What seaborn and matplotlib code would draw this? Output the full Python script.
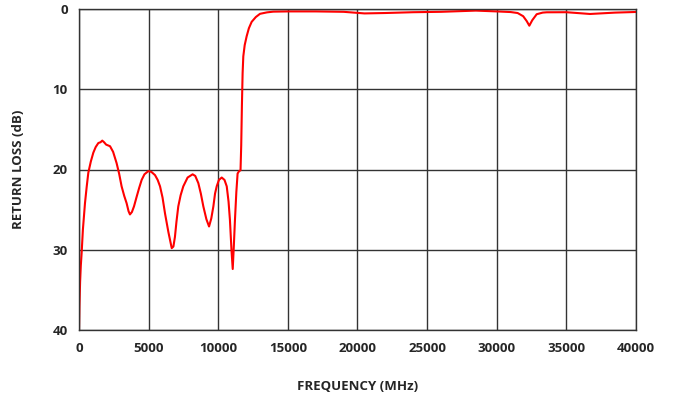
import matplotlib
matplotlib.use("Agg")
import matplotlib.pyplot as plt
import seaborn as sns
import pandas as pd

freq_mhz = [0, 30, 80, 130, 190, 280, 430, 550, 670, 850, 1030, 1200, 1390, 1550, 1670, 1800, 1950,
            2230, 2450, 2700, 2880, 3060, 3250, 3420, 3560, 3660, 3800, 3950, 4140, 4320, 4500,
            4700, 4980, 5200, 5460, 5650, 5820, 6000, 6180, 6420, 6660, 6780, 6890, 7000, 7130,
            7300, 7490, 7800, 8160, 8350, 8570, 8750, 8930, 9150, 9340, 9500, 9650, 9770, 9890,
            10050, 10250, 10450, 10610, 10740, 10840, 10950, 11040, 11120, 11200, 11300, 11390,
            11500, 11600, 11650, 11700, 11750, 11800, 11900, 12040, 12200, 12400, 12700, 13000,
            13500, 13950, 15000, 17000, 19000, 20500, 22000, 24000, 26000, 28500, 30000, 31000,
            31500, 31900, 32150, 32340, 32550, 32870, 33300, 33590, 35000, 36700, 38500, 40000]
return_loss_db = [40, 37, 34, 32, 30.4, 27.5, 24.2, 22.2, 20.4, 19.0, 17.9, 17.2, 16.7, 16.6, 16.4, 16.6, 16.9,
                  17.1, 17.8, 19.2, 20.5, 22.1, 23.3, 24.2, 25.2, 25.6, 25.3, 24.6, 23.4, 22.3, 21.3,
                  20.6, 20.2, 20.3, 20.7, 21.3, 22.1, 23.5, 25.5, 27.8, 29.8, 29.6, 28.4, 26.5, 24.6,
                  23.2, 22.1, 21.0, 20.6, 20.8, 21.7, 23.0, 24.6, 26.2, 27.1, 26.1, 24.6, 23.0, 22.1,
                  21.3, 21.0, 21.3, 22.1, 24.0, 26.3, 30.0, 32.4, 29.5, 26.3, 22.8, 20.5,
                  20.2, 20.1, 17.0, 12.0, 8.0, 5.9, 4.5, 3.4, 2.4, 1.6, 1.0, 0.6,
                  0.42, 0.33, 0.3, 0.3, 0.35, 0.55, 0.5, 0.4, 0.35, 0.2, 0.3, 0.38,
                  0.5, 0.9, 1.5, 2.08, 1.4, 0.65, 0.45, 0.41, 0.4, 0.62, 0.45, 0.37]
x_ticks = [0, 5000, 10000, 15000, 20000, 25000, 30000, 35000, 40000]
y_ticks = [0, 10, 20, 30, 40]

df = pd.DataFrame({"freq": freq_mhz, "rl": return_loss_db})

sns.set_theme(style="white")
plt.rcParams["font.family"] = ["Open Sans", "DejaVu Sans"]

fig = plt.figure(figsize=(6.74, 4.0), dpi=100)
ax = fig.add_axes([0.1172, 0.175, 0.8264, 0.8025])
sns.lineplot(data=df, x="freq", y="rl", ax=ax, color="#ff0000", linewidth=1.5)

ax.set_xlim(0, 40000)
ax.set_ylim(40, 0)
ax.set_xticks(x_ticks)
ax.set_yticks(y_ticks)
ax.set_xticklabels([str(t) for t in x_ticks], fontsize=9.5, fontweight="bold")
ax.set_yticklabels([str(t) for t in y_ticks], fontsize=9.5, fontweight="bold")
ax.grid(True, color="#333333", linewidth=1.0)
for s in ax.spines.values():
    s.set_color("#333333")
    s.set_linewidth(1.0)
ax.tick_params(axis="y", length=4, color="#333333", pad=4)
ax.tick_params(axis="x", length=0, pad=9)
ax.set_xlabel("FREQUENCY (MHz)", fontsize=9.5, fontweight="bold", labelpad=18)
ax.set_ylabel("RETURN LOSS (dB)", fontsize=9.5, fontweight="bold", labelpad=20)
fig.savefig("out.png", dpi=100)
